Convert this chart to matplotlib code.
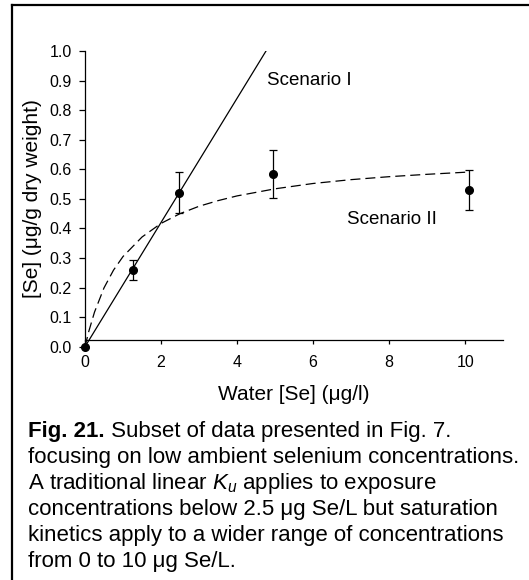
import matplotlib
matplotlib.use("Agg")
import matplotlib.pyplot as plt
from matplotlib.lines import Line2D

plt.rcParams['font.family'] = ['Liberation Sans', 'DejaVu Sans']
plt.rcParams['mathtext.fontset'] = 'custom'
plt.rcParams['mathtext.rm'] = 'Liberation Sans'
plt.rcParams['mathtext.it'] = 'Liberation Sans:italic'

# measured points
water_se = [0.0, 1.25, 2.48, 4.95, 10.1]
tissue_se = [0.0, 0.258, 0.521, 0.584, 0.530]
err_low = [0.0, 0.033, 0.069, 0.081, 0.069]
err_high = [0.0, 0.034, 0.069, 0.081, 0.068]

# Scenario I (linear Ku)
lin_x = [0.0, 4.76]
lin_y = [0.0, 1.0]

# Scenario II (saturation curve)
sat_x = [0.0, 0.1, 0.25, 0.5, 0.75, 1.0, 1.5, 2.0, 2.5, 3.0, 3.5, 4.0, 5.0, 6.0, 7.0, 8.0, 9.0, 10.0]
sat_y = [0.0, 0.052, 0.117, 0.199, 0.259, 0.305, 0.371, 0.417, 0.450, 0.475,
         0.494, 0.510, 0.534, 0.552, 0.565, 0.575, 0.583, 0.590]

x_ticks = [0, 2, 4, 6, 8, 10]
y_ticks = [0.0, 0.1, 0.2, 0.3, 0.4, 0.5, 0.6, 0.7, 0.8, 0.9, 1.0]

caption_lines = [
    "focusing on low ambient selenium concentrations.",
    "A traditional linear $K_u$ applies to exposure",
    "concentrations below 2.5 μg Se/L but saturation",
    "kinetics apply to a wider range of concentrations",
    "from 0 to 10 μg Se/L.",
]

W, H = 529, 580
fig = plt.figure(figsize=(W / 100, H / 100), dpi=100)
ax = fig.add_axes([85 / W, 1 - 346.7 / H, 418.3 / W, 295.7 / H])

ax.plot(lin_x, lin_y, color='black', lw=0.9)
ax.plot(sat_x, sat_y, color='black', lw=0.9, dashes=(8, 4))
ax.errorbar(water_se, tissue_se, yerr=[err_low, err_high], fmt='o', color='black',
            ms=5.5, capsize=3, elinewidth=0.9, capthick=0.9, clip_on=False, zorder=5)

ax.text(4.78, 0.90, "Scenario I", fontsize=13.5, va='center', ha='left')
ax.text(6.9, 0.43, "Scenario II", fontsize=13.5, va='center', ha='left')

ax.set_xlim(0, 11)
ax.set_ylim(0, 1.0)
ax.set_xticks(x_ticks)
ax.set_yticks(y_ticks)
ax.set_yticklabels([f"{v:.1f}" for v in y_ticks])
ax.tick_params(axis='both', labelsize=11.5, width=0.9, color='black')
ax.tick_params(axis='y', direction='out', length=4.5, pad=5)
ax.tick_params(axis='x', direction='out', length=3, pad=8)

ax.spines['top'].set_visible(False)
ax.spines['right'].set_visible(False)
ax.spines['bottom'].set_position(('data', 0.023))
for s in ['left', 'bottom']:
    ax.spines[s].set_linewidth(0.9)

ax.set_xlabel("Water [Se] (μg/l)", fontsize=15)
ax.set_ylabel("[Se] (μg/g dry weight)", fontsize=15)
ax.xaxis.set_label_coords(0.5, -0.128)
ax.yaxis.set_label_coords(-0.103, 0.5)

# outer frame (left and top edges visible in the crop)
fig.add_artist(Line2D([12 / W, 12 / W], [0, 1 - 5 / H], transform=fig.transFigure,
                      color='black', lw=1.6))
fig.add_artist(Line2D([12 / W, 1], [1 - 5 / H, 1 - 5 / H], transform=fig.transFigure,
                      color='black', lw=1.6))

# caption
cap_x = 28 / W
cap_fs = 16
head = fig.text(cap_x, 1 - 432 / H, "Fig. 21.", fontsize=cap_fs, fontweight='bold',
                va='center', ha='left')
fig.canvas.draw()
bb = head.get_window_extent().transformed(fig.transFigure.inverted())
fig.text(bb.x1, 1 - 432 / H, " Subset of data presented in Fig. 7.", fontsize=cap_fs,
         va='center', ha='left')
line_y = [458, 484, 510, 536, 562]
for txt, yy in zip(caption_lines, line_y):
    fig.text(cap_x, 1 - yy / H, txt, fontsize=cap_fs, va='center', ha='left')

fig.savefig("out.png", dpi=100)
